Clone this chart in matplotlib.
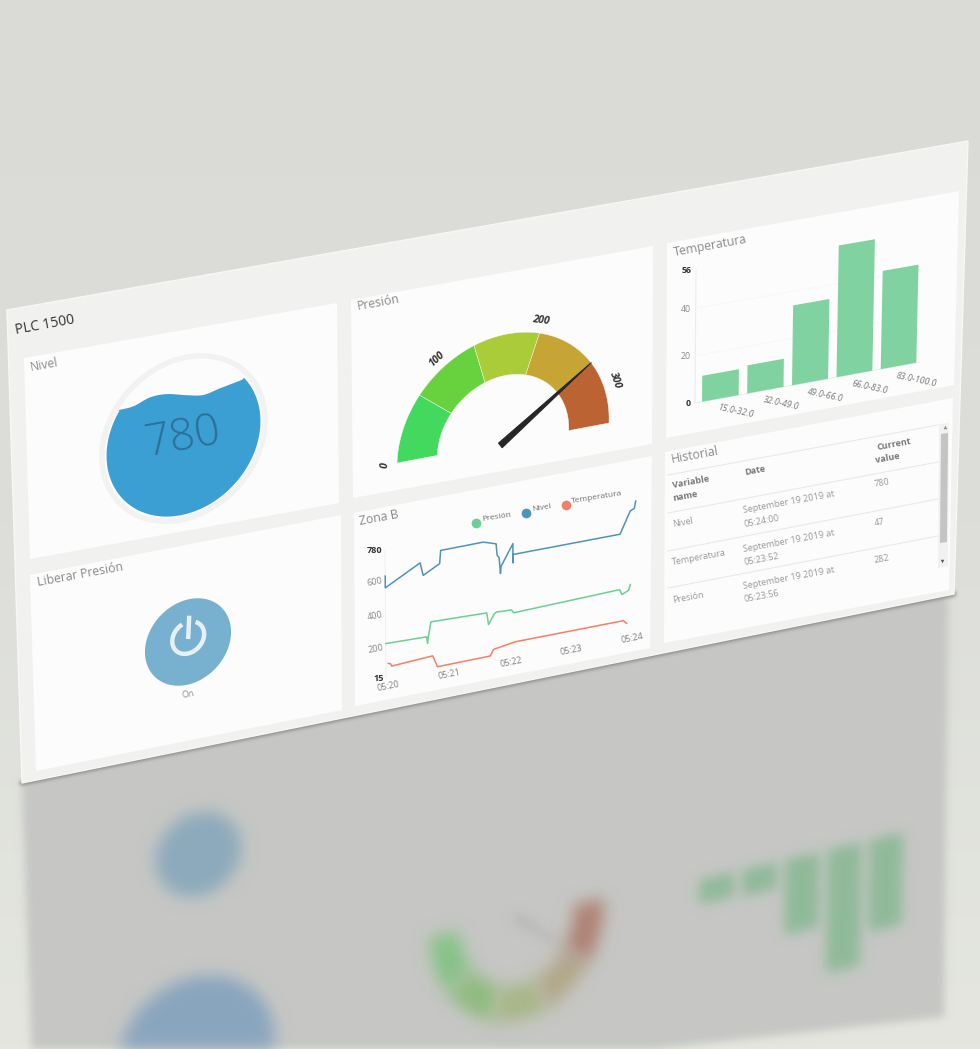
import numpy as np
import matplotlib
matplotlib.use("Agg")
import matplotlib.pyplot as plt
import matplotlib.transforms as mtransforms
from matplotlib.patches import Polygon

plt.rcParams['font.family'] = ['Open Sans', 'DejaVu Sans']

# ---------- values ----------
nivel_value = 780
wave_x = [-0.80, -0.62, -0.426, -0.227, 0.014, 0.213, 0.41, 0.669]
wave_y = [0.48, 0.494, 0.565, 0.569, 0.513, 0.48, 0.524, 0.579]

gauge_edges = [0, 60, 120, 180, 240, 300]
gauge_colors = ['#42d95e', '#68d13e', '#aacc38', '#c6a535', '#bb6332']
gauge_ticks = [0, 100, 200, 300]
gauge_value = 240

hist_labels = ['15.0-32.0', '32.0-49.0', '49.0-66.0', '66.0-83.0', '83.0-100.0']
hist_counts = [11, 12, 34, 56, 42]
hist_ticks = [0, 20, 40, 56]

nivel_t = [0, 0, .568, .579, .617, .885, .902, 1.596, 1.803, 1.82, 1.852, 1.874,
           1.885, 2.077, 2.077, 2.082, 3.825, 3.989, 4.055, 4.077]
nivel_v = [625, 555, 663, 643, 585, 636, 713, 713, 688, 619, 603, 506,
           549, 670, 555, 605, 601, 728, 738, 780]
presion_t = [0, .667, .683, .694, .738, 1.65, 1.678, 1.776, 1.814, 1.913, 2.055,
             2.087, 3.825, 3.863, 3.973, 4.0]
presion_v = [222, 214, 173, 212, 299, 287, 215, 274, 281, 278, 276,
             256, 270, 238, 256, 288]
temp_t = [.038, .077, .093, .765, .842, 1.705, 1.76, 2.115, 3.891, 3.945]
temp_v = [100, 95, 80, 93, 22, 24, 60, 80, 79, 59]
zona_yticks = [15, 200, 400, 600, 780]
zona_xticks = ['05:20', '05:21', '05:22', '05:23', '05:24']

table_names = ['Nivel', 'Temperatura', 'Presión']
table_dates = ['05:24:00', '05:23:52', '05:23:56']
table_values = [780, 47, 282]

# ---------- layout, in pixels of the picture ----------
board = [(7, 310), (968, 141), (954, 594), (22, 783)]
plate_corners = [(34, 1117), (944, 1017), (948, 594), (22, 783)]
mirror_to = [(26, 1245), (944, 1020), (948, 594), (30, 783)]
panels = [
    [(24, 358), (337, 303), (339, 503), (30, 559)],
    [(30, 575), (341, 515), (342, 710), (36, 771)],
    [(351, 300), (653, 246), (652, 444), (353, 498)],
    [(667, 243), (959, 191), (954, 385), (666, 438)],
    [(354, 513), (652, 456), (650, 648), (355, 706)],
    [(665, 452), (953, 398), (949, 590), (664, 643)],
]

fig = plt.figure(figsize=(9.8, 10.49), dpi=100)
ax = fig.add_axes([0, 0, 1, 1])
ax.set_xlim(0, 980)
ax.set_ylim(1049, 0)
ax.set_autoscale_on(False)
ax.axis('off')


class Homography(mtransforms.Transform):
    input_dims = 2
    output_dims = 2

    def __init__(self, src, dst):
        super().__init__()
        a, b = [], []
        for (x, y), (u, v) in zip(src, dst):
            a.append([x, y, 1, 0, 0, 0, -u * x, -u * y])
            a.append([0, 0, 0, x, y, 1, -v * x, -v * y])
            b += [u, v]
        self.m = np.append(np.linalg.solve(np.array(a, float), np.array(b, float)), 1).reshape(3, 3)

    def transform_non_affine(self, values):
        values = np.asarray(values, float)
        pts = np.column_stack([values, np.ones(len(values))]) @ self.m.T
        return pts[:, :2] / pts[:, 2:]


class Blur:
    def __init__(self, sigma):
        self.sigma = sigma

    def __call__(self, im, dpi):
        pad = int(self.sigma * 4) + 2
        alpha = np.pad(im[:, :, 3], pad, mode='constant')
        fy = np.fft.fftfreq(alpha.shape[0])[:, None]
        fx = np.fft.rfftfreq(alpha.shape[1])[None, :]
        g = np.exp(-2 * (np.pi * self.sigma) ** 2 * (fx ** 2 + fy ** 2))
        out = np.fft.irfft2(np.fft.rfft2(alpha) * g, s=alpha.shape)
        res = np.zeros(alpha.shape + (4,))
        w = im[:, :, 3].sum() + 1e-9
        for i in range(3):
            res[:, :, i] = (im[:, :, i] * im[:, :, 3]).sum() / w
        res[:, :, 3] = np.clip(out, 0, 1)
        return res, -pad, -pad


def quad(x0, x1, y0, y1, corners):
    # corners: (x0,y0) (x1,y0) (x1,y1) (x0,y1)
    return Homography([(x0, y0), (x1, y0), (x1, y1), (x0, y1)], corners)


def local(c, h, v):
    c, h, v = np.array(c, float), np.array(h, float), np.array(v, float)
    return quad(-1, 1, -1, 1, [c - h - v, c + h - v, c + h + v, c - h + v])


def rot(tr, x, y, dx=1e-3, dy=0):
    p = (tr + ax.transData).transform([(x, y), (x + dx, y + dy)])
    return np.degrees(np.arctan2(p[1, 1] - p[0, 1], p[1, 0] - p[0, 0]))


def label(x, y, s, size=6.5, color='#777777', rotation=10.4, ha='left', va='baseline', **kw):
    ax.text(x, y, s, fontsize=size, color=color, rotation=rotation,
            rotation_mode='anchor', ha=ha, va=va, **kw)


# ---------- transforms of the marks ----------
nivel_tr = local((183.5, 438.5), (84, -15), (4, -84))
button_tr = local((188, 642), (43, -8), (2, -43))
gauge_tr = local((503, 443), (106, -20), (4, -109))
hist_tr = quad(-0.56, 4.49, 0, 56, [(695, 403), (920, 362), (923, 231), (696, 270)])
zona_tr = quad(0, 4, 15, 780, [(386, 678), (630, 630), (631, 502), (385, 550)])
mirror = Homography(board, mirror_to)


def disc(r=1.0):
    th = np.linspace(0, 2 * np.pi, 120)
    return np.column_stack([r * np.cos(th), r * np.sin(th)])


def gauge_band(lo, hi, r0=0.62, r1=1.0):
    th = np.radians(180 * (1 - np.linspace(lo, hi, 30) / 300))
    return np.vstack([np.column_stack([r1 * np.cos(th), r1 * np.sin(th)]),
                      np.column_stack([r0 * np.cos(th[::-1]), r0 * np.sin(th[::-1])])])


def needle(value, base=0.03, length=1.0):
    th = np.radians(180 * (1 - value / 300))
    d = np.array([np.cos(th), np.sin(th)])
    n = np.array([-d[1], d[0]])
    return np.array([-d * base + n * base, d * length, -d * base - n * base])


def smooth_curve(xs, ys, steps=8):
    # catmull-rom through the read points, the wave outline is a smooth curve
    p = np.column_stack([xs, ys])
    p = np.vstack([2 * p[0] - p[1], p, 2 * p[-1] - p[-2]])
    out = []
    for i in range(1, len(p) - 2):
        for t in np.linspace(0, 1, steps, endpoint=False):
            out.append(0.5 * (2 * p[i] + (p[i + 1] - p[i - 1]) * t
                              + (2 * p[i - 1] - 5 * p[i] + 4 * p[i + 1] - p[i + 2]) * t ** 2
                              + (3 * p[i] - p[i - 1] - 3 * p[i + 1] + p[i + 2]) * t ** 3))
    out.append(p[-2])
    return np.array(out)


def water(r=0.915):
    a0 = np.arctan2(wave_y[-1], wave_x[-1])
    a1 = np.arctan2(wave_y[0], wave_x[0]) - 2 * np.pi
    th = np.linspace(a0, a1, 100)
    return np.vstack([smooth_curve(wave_x, wave_y), np.column_stack([r * np.cos(th), r * np.sin(th)])])


# ---------- background ----------
ax.imshow(np.linspace(0, 1, 256)[:, None], extent=(0, 980, 1049, 0), aspect='auto', zorder=0,
          cmap=matplotlib.colors.LinearSegmentedColormap.from_list('bg', ['#dadbd6', '#dddeda', '#e4e6df']))

# ---------- blurred reflection under the board ----------
def soft(points, tr, color, sigma, z):
    p = Polygon(points, closed=True, facecolor=color, edgecolor='none',
                transform=tr + mirror + ax.transData, zorder=z)
    ax.add_patch(p)
    p.set_agg_filter(Blur(sigma))
    return p


plate = Polygon(plate_corners, closed=True, facecolor='#c7c8c5', edgecolor='none', zorder=1)
ax.add_patch(plate)
plate.set_agg_filter(Blur(4))
soft(disc(0.95), nivel_tr, '#8aa6bf', 8, 2)
soft(disc(1.0), button_tr, '#8dabbd', 8, 2)
narrow = mtransforms.Affine2D().scale(0.85, 1).translate(0.09, 0) + gauge_tr
mix = ['#86c486', '#90bd80', '#a9b888', '#b3a88a', '#ae8273']
for i in range(len(gauge_colors)):
    soft(gauge_band(gauge_edges[i], gauge_edges[i + 1], r0=0.66), narrow, mix[i], 8, 2)
soft(needle(gauge_value), narrow, '#adadab', 6, 2)
for i, c in enumerate(hist_counts):
    corners = [(i - .4, 0), (i + .4, 0), (i + .4, c), (i - .4, c)]
    soft(corners, hist_tr, '#90bb9a', 6, 2)

# ---------- board and panels ----------
edge = ax.plot([board[3][0], board[2][0]], [board[3][1], board[2][1]], color='#6d6d6b', lw=2.5, zorder=3)[0]
edge.set_agg_filter(Blur(2))
ax.add_patch(Polygon(board, closed=True, facecolor='#f1f1f0', edgecolor='#f7f7f6', lw=1, zorder=4))
for corners in panels:
    ax.add_patch(Polygon(corners, closed=True, facecolor='#fcfcfc', edgecolor='none', zorder=5))

label(16, 334, 'PLC 1500', size=10, color='#333333', zorder=9)
for x, y, s in [(31, 371, 'Nivel'), (38, 586, 'Liberar Presión'), (358, 310, 'Presión'),
                (674, 256, 'Temperatura'), (360, 525, 'Zona B'), (672, 463, 'Historial')]:
    label(x, y, s, size=8.8, color='#8a8a8a', zorder=9)

# ---------- Nivel ----------
ax.add_patch(Polygon(disc(0.97), closed=True, facecolor='none', edgecolor='#f2f2f2', lw=4,
                     transform=nivel_tr + ax.transData, zorder=6))
ax.add_patch(Polygon(water(), closed=True, facecolor='#3b9fd3', edgecolor='none',
                     transform=nivel_tr + ax.transData, zorder=6))
ax.text(0, 0, str(nivel_value), transform=nivel_tr + ax.transData, fontsize=32, color='#2c6f98',
        fontweight='light', ha='center', va='center', rotation=rot(nivel_tr, 0, 0), rotation_mode='anchor', zorder=7)

# ---------- Liberar Presion ----------
ax.add_patch(Polygon(disc(), closed=True, facecolor='#78b0d0', edgecolor='none',
                     transform=button_tr + ax.transData, zorder=6))
th = np.radians(np.linspace(-245, 65, 60))
ax.plot(0.37 * np.cos(th), 0.1 + 0.37 * np.sin(th), color='#e6f0f6', lw=3.2,
        transform=button_tr + ax.transData, zorder=7, solid_capstyle='butt')
ax.plot([0, 0], [0.12, 0.56], color='#e6f0f6', lw=3.2, transform=button_tr + ax.transData, zorder=7)
ax.text(0.05, -1.22, 'On', transform=button_tr + ax.transData, fontsize=6.5, color='#909090', ha='center',
        va='center', rotation=rot(button_tr, 0, -1.22), rotation_mode='anchor', zorder=7)

# ---------- Presion gauge ----------
gauge_t = gauge_tr + ax.transData
for i, col in enumerate(gauge_colors):
    ax.add_patch(Polygon(gauge_band(gauge_edges[i], gauge_edges[i + 1]), closed=True, facecolor=col,
                         edgecolor='#fcfcfc', lw=0.3, transform=gauge_t, zorder=6))
ax.add_patch(Polygon(needle(gauge_value), closed=True, facecolor='#262626', edgecolor='#262626',
                     lw=0.8, joinstyle='round', transform=gauge_t, zorder=7))
for v in gauge_ticks:
    a = np.radians(180 - 160 * v / 300)
    x, y = 1.11 * np.cos(a), 1.11 * np.sin(a)
    ang = rot(gauge_tr, x, y, np.sin(a) * 1e-3, -np.cos(a) * 1e-3)
    ax.text(x, y, str(v), transform=gauge_t, fontsize=7.5, fontweight='bold', style='italic', color='#333333',
            ha='center', va='center', rotation=ang, rotation_mode='anchor', zorder=7)

# ---------- Temperatura histogram ----------
hist_t = hist_tr + ax.transData
x_pos = np.arange(len(hist_counts))
ax.plot([-0.56, -0.56], [0, 56], color='#ececec', lw=0.8, transform=hist_t, zorder=6)
ax.plot([-0.56, 4.49], [0, 0], color='#ececec', lw=0.8, transform=hist_t, zorder=6)
for v in hist_ticks[1:-1]:
    ax.plot([-0.56, 4.49], [v, v], color='#f7f7f7', lw=0.7, transform=hist_t, zorder=6)
ax.bar(x_pos, hist_counts, width=0.81, color='#80d3a0', transform=hist_t, zorder=7)
for v in hist_ticks:
    bold = v in (hist_ticks[0], hist_ticks[-1])
    ax.text(-0.66, v, str(v), transform=hist_t, fontsize=6.3, ha='right', va='center',
            fontweight='bold' if bold else 'normal', color='#333333' if bold else '#888888', zorder=7)
for p, s in zip(x_pos, hist_labels):
    ax.text(p - 0.05, -3.8, s, transform=hist_t, fontsize=6.3, style='italic', color='#777777', ha='left',
            va='center', rotation=-12, rotation_mode='anchor', zorder=7)

# ---------- Zona B lines ----------
zona_t = zona_tr + ax.transData
ax.plot([0, 0], [15, 780], color='#efefef', lw=0.7, transform=zona_t, zorder=6)
ax.plot(presion_t, presion_v, color='#6ccf94', lw=1.1, transform=zona_t, zorder=7)
ax.plot(nivel_t, nivel_v, color='#4f93b8', lw=1.1, transform=zona_t, zorder=7)
ax.plot(temp_t, temp_v, color='#f37f66', lw=1.1, transform=zona_t, zorder=7)
for v in zona_yticks:
    bold = v in (zona_yticks[0], zona_yticks[-1])
    ax.text(-0.04, v, str(v), transform=zona_t, fontsize=6.6, ha='right', va='center',
            rotation=rot(zona_tr, -0.04, v) if not bold else 0, rotation_mode='anchor',
            fontweight='bold' if bold else 'normal', color='#333333' if bold else '#888888', zorder=7)
for i, s in enumerate(zona_xticks):
    ax.text(i + 0.04, -40, s, transform=zona_t, fontsize=6.4, color='#808080', ha='center', va='center',
            rotation=rot(zona_tr, i, -40), rotation_mode='anchor', zorder=7)
for x, y, tx, ty, s, col in [(476, 523, 482, 521, 'Presión', '#6ccf94'),
                             (526, 513, 532, 511, 'Nivel', '#4f93b8'),
                             (566, 505, 572, 503, 'Temperatura', '#f37f66')]:
    ax.plot([x], [y], 'o', color=col, ms=7, mew=0, zorder=7)
    label(tx, ty, s, size=6, color='#707070', rotation=9, zorder=7)

# ---------- Historial table ----------
for y0, y1 in [(475, 425), (513, 462), (551, 499), (588, 536)]:
    ax.plot([668, 938], [y0, y1], color='#e9e9e9', lw=0.8, zorder=6)
label(673, 488, 'Variable', weight='bold', zorder=7)
label(673, 501, 'name', weight='bold', zorder=7)
label(745, 475, 'Date', weight='bold', zorder=7)
label(877, 450, 'Current', weight='bold', zorder=7)
label(876, 463, 'value', weight='bold', zorder=7)
row_y = [527, 565, 603]
sep_y = [513, 552, 589]
time_y = [527, 565, 602]
val_y = [487, 526, 563]
for i in range(len(table_names)):
    label(673, row_y[i], table_names[i], color='#999999', zorder=7)
    label(744, sep_y[i], 'September 19 2019 at', color='#999999', zorder=7)
    label(744, time_y[i], table_dates[i], color='#999999', zorder=7)
    label(875, val_y[i], str(table_values[i]), color='#999999', zorder=7)

ax.add_patch(Polygon([(939, 424), (949, 423), (948, 566), (938, 568)], closed=True,
                     facecolor='#f1f1f1', edgecolor='none', zorder=6))
ax.add_patch(Polygon([(941, 434), (948, 433), (947, 542), (940, 543)], closed=True,
                     facecolor='#c4c4c4', edgecolor='none', zorder=7))
ax.plot([944.5], [427], '^', color='#888888', ms=2.5, mew=0, zorder=7)
ax.plot([941.5], [561], 'v', color='#555555', ms=2.5, mew=0, zorder=7)

fig.savefig('out.png', dpi=100)
